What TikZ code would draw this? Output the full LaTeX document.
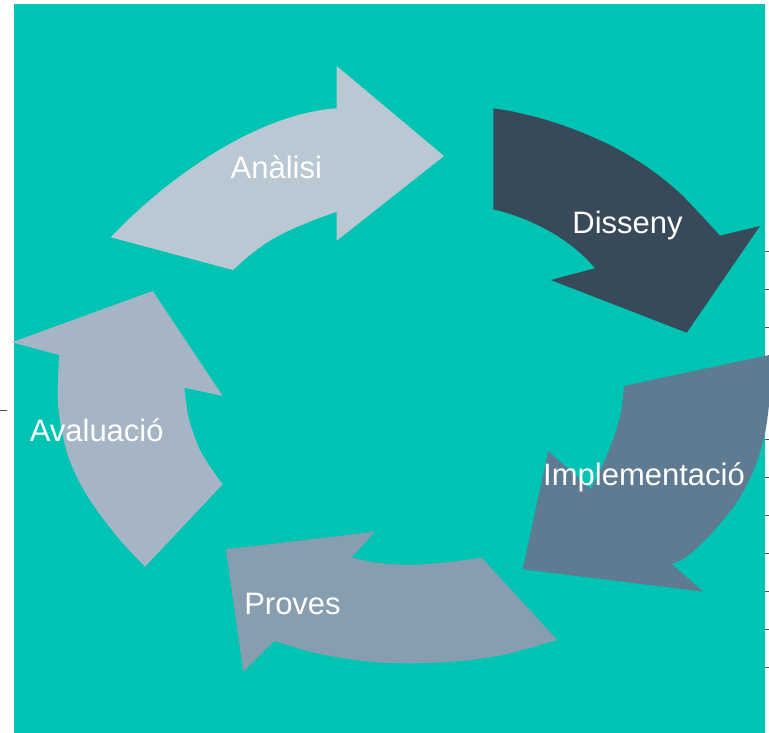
\documentclass[tikz,border=0pt]{standalone}
\usepackage{fontspec}
\setmainfont{Liberation Sans}
\definecolor{bgteal}{RGB}{0,196,179}
\definecolor{cAnalisi}{RGB}{186,200,211}
\definecolor{cDisseny}{RGB}{56,74,90}
\definecolor{cImpl}{RGB}{95,123,146}
\definecolor{cProves}{RGB}{135,158,177}
\definecolor{cAval}{RGB}{165,181,198}
\definecolor{tickgray}{RGB}{80,80,80}
\begin{document}
\begin{tikzpicture}[x=1pt,y=-1pt,
  lab/.style={text=white, font=\fontsize{31}{36}\selectfont, anchor=base, inner sep=0pt},
  tickmark/.style={draw=tickgray, line width=1pt}]
\useasboundingbox (0,0) rectangle (769,733);
\fill[bgteal] (14,4) rectangle (765,733);
% axis ticks
\foreach \ty in {251,289,327,364,402,439.5,477.3,515,553,591,629,667}
  \draw[tickmark] (765,\ty) -- (769,\ty);
\draw[tickmark] (0,410) -- (7,410);
% Analisi
\fill[cAnalisi] (110.7,237.3) -- (233,270)
  -- plot[smooth] coordinates {(233,270) (250,255) (266.7,242.7) (283.3,233.3) (300,225.7) (316.7,219) (336.7,211.7)}
  -- (336.7,240.7) -- (444,156) -- (336.7,66) -- (336.7,108.3)
  .. controls (255,114) and (165,180) .. (110.7,237.3)
  -- cycle;
% Disseny
\fill[cDisseny] (493.3,108.3) -- (493.3,209.3)
  .. controls (530,218) and (570,238) .. (595,268.3)
  -- (550.7,280) -- (686.7,332.7) -- (760,226) -- (720,235.7)
  -- plot[smooth] coordinates {(720,235.7) (680,193.3) (646.7,166.7) (613.3,146.7) (580,131.7) (546.7,120) (513.3,111.7) (493.3,108.3)}
  -- cycle;
% Implementacio
\fill[cImpl] (771,354.6) -- (624,386)
  -- plot[smooth] coordinates {(624,386) (621,412) (614,437) (604,462) (591,489)}
  -- (548.3,451) -- (522.7,569.3) -- (703.3,591.7) -- (671.7,564)
  -- plot[smooth] coordinates {(671.7,564) (686.7,556.7) (711.7,533.3) (738.3,500) (755,466.7) (765,433) (769.5,400) (770.5,375) (771,354.6)}
  -- cycle;
% Proves
\fill[cProves] (557.3,640) -- (481.7,557.7)
  -- plot[smooth] coordinates {(481.7,557.7) (460,560.7) (436.7,563.3) (413.3,564.7) (390,564) (370,561.7) (351.7,557.3)}
  -- (375,531.7) -- (226,549.3) -- (243.3,671.7) -- (274.3,641)
  -- plot[smooth] coordinates {(274.3,641) (310,651.7) (343.3,658.3) (376.7,662.3) (410,663.3) (443.3,662.3) (476.7,659.3) (510,653.3) (557.3,640)}
  -- cycle;
% Avaluacio
\fill[cAval] (145,566.7) -- (222.7,484.3)
  -- plot[smooth] coordinates {(222.7,484.3) (210,466.7) (200,450) (193.3,433.3) (188.3,416.7) (185.7,400) (184.3,387.7)}
  -- (222.7,396) -- (152.7,291) -- (11.7,342.3) -- (59.3,355)
  -- plot[smooth] coordinates {(59.3,355) (58,380) (58.3,406.7) (61.7,430) (68.3,456.7) (80,483.3) (96.7,510) (120,540) (145,566.7)}
  -- cycle;
% labels
\node[lab] (tAnalisi) at (276.3,178.3) {Anàlisi};
\node[lab] (tDisseny) at (627.5,233.3) {Disseny};
\node[lab] (tImpl) at (644,485.7) {Implementació};
\node[lab] (tProves) at (292.5,614.3) {Proves};
\node[lab] (tAval) at (96.7,441.7) {Avaluació};
\end{tikzpicture}
\end{document}
